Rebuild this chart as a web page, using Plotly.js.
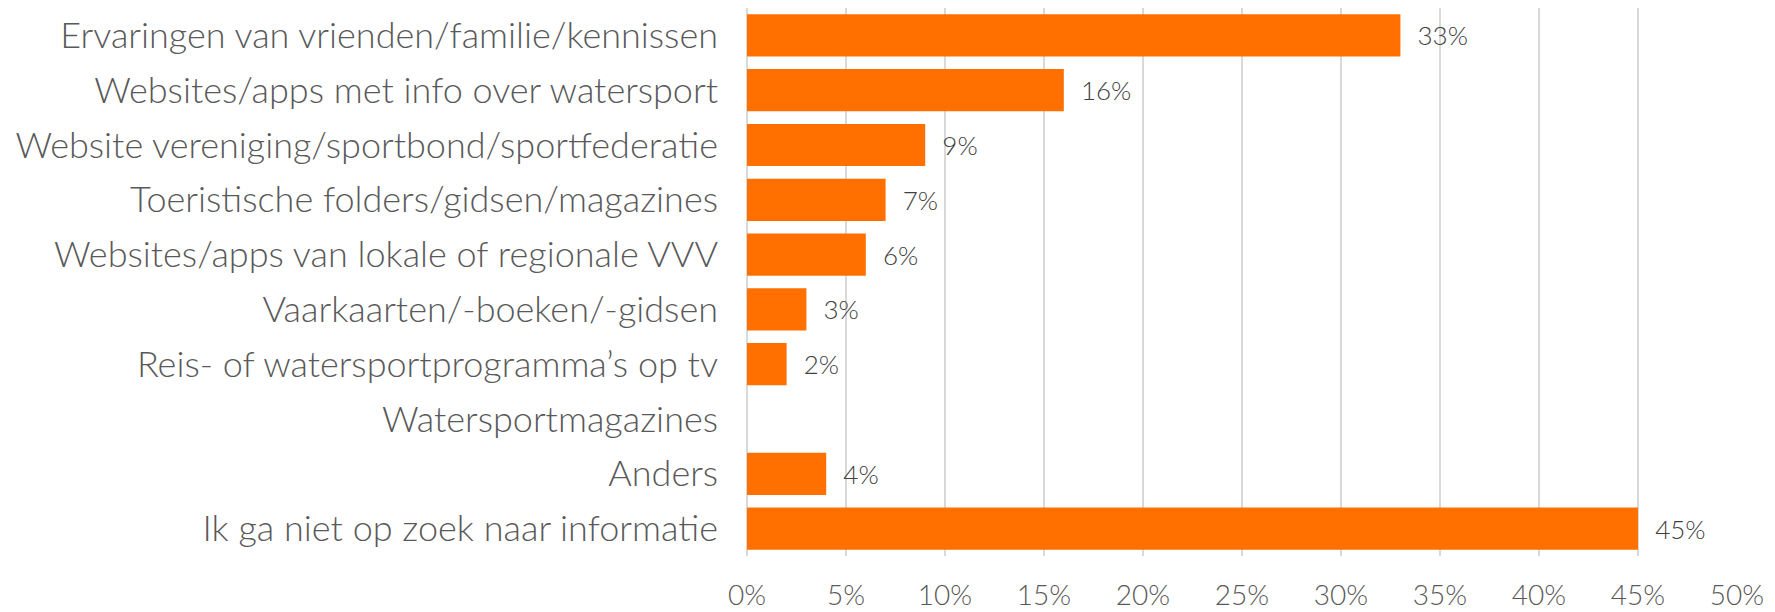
<!DOCTYPE html>
<html>
<head>
<meta charset="utf-8">
<script src="https://cdn.plot.ly/plotly-3.0.1.min.js"></script>
<style>html,body{margin:0;padding:0;background:#fff;}#chart{width:1775px;height:612px;}</style>
</head>
<body>
<div id="chart"></div>
<script>
const categories = [
  "Ervaringen van vrienden/familie/kennissen",
  "Websites/apps met info over watersport",
  "Website vereniging/sportbond/sportfederatie",
  "Toeristische folders/gidsen/magazines",
  "Websites/apps van lokale of regionale VVV",
  "Vaarkaarten/-boeken/-gidsen",
  "Reis- of watersportprogramma’s op tv",
  "Watersportmagazines",
  "Anders",
  "Ik ga niet op zoek naar informatie"
];
const values = [33, 16, 9, 7, 6, 3, 2, 0, 4, 45];
const tickValues = [0, 5, 10, 15, 20, 25, 30, 35, 40, 45, 50];
const tickLabels = ["0%", "5%", "10%", "15%", "20%", "25%", "30%", "35%", "40%", "45%", "50%"];

const FONT = "Lato, 'Open Sans', sans-serif";
const labels = values.map(v => v > 0 ? "\u00a0\u00a0" + v + "%" : "");

Plotly.newPlot("chart", [{
  type: "bar",
  orientation: "h",
  y: categories,
  x: values,
  text: labels,
  textposition: "outside",
  texttemplate: "%{text}",
  textfont: {family: FONT, size: 26, color: "#404040", weight: 300},
  cliponaxis: false,
  marker: {color: "#FF7000"},
  hoverinfo: "none"
}], {
  width: 1775, height: 612,
  margin: {l: 747, r: 38, t: 8, b: 56},
  paper_bgcolor: "#fff", plot_bgcolor: "#fff",
  showlegend: false,
  bargap: 0.23,
  xaxis: {
    range: [0, 50],
    tickmode: "array", tickvals: tickValues, ticktext: tickLabels,
    showgrid: true, gridcolor: "#d9d9d9", gridwidth: 1.5,
    zeroline: true, zerolinecolor: "#d9d9d9", zerolinewidth: 1.5,
    showline: false, ticks: "",
    ticklabelstandoff: 20,
    tickfont: {family: FONT, size: 28, color: "#595959", weight: 300}
  },
  yaxis: {
    autorange: "reversed",
    showgrid: false, zeroline: false, showline: false, ticks: "",
    ticklabelstandoff: 28,
    tickfont: {family: FONT, size: 36, color: "#595959", weight: 300}
  }
}, {displayModeBar: false, staticPlot: true});
</script>
</body>
</html>
